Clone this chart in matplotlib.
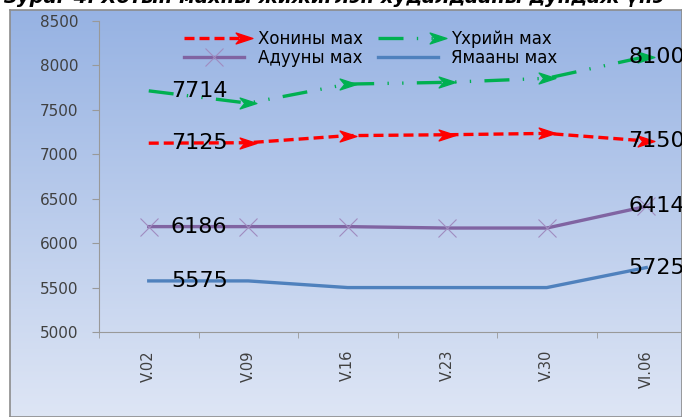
import numpy as np
import matplotlib
matplotlib.use('Agg')
import matplotlib.pyplot as plt
from matplotlib.path import Path
from matplotlib.legend_handler import HandlerLine2D

plt.rcParams['font.family'] = ['DejaVu Sans']

# data
dates = ['V.02', 'V.09', 'V.16', 'V.23', 'V.30', 'VI.06']
khonin = [7125, 7130, 7210, 7220, 7235, 7150]
ukhriin = [7714, 7575, 7790, 7810, 7855, 8100]
aduun = [6186, 6186, 6186, 6170, 6170, 6414]
yamaan = [5575, 5575, 5500, 5500, 5500, 5725]
names = ['Хонины мах', 'Үхрийн мах', 'Адууны мах', 'Ямааны мах']
yticks = [5000, 5500, 6000, 6500, 7000, 7500, 8000, 8500]


class ArrowAtEnd(HandlerLine2D):
    # legend line with the arrowhead at the right end
    def create_artists(self, *args, **kwargs):
        arts = super().create_artists(*args, **kwargs)
        arts[0].set_markevery([2])
        return arts


W, H = 682, 417
fig = plt.figure(figsize=(W/100, H/100), dpi=100)
fig.patch.set_facecolor('white')

# gradient background frame
bg = fig.add_axes([10/W, 0, 1 - 10/W, 1 - 10/H])
grad = np.linspace(0, 1, 256).reshape(-1, 1)
top = np.array([0.59, 0.70, 0.89])
bot = np.array([0.87, 0.90, 0.96])
img = top + (bot - top) * grad[:, :, None] * np.ones((1, 2, 1))
bg.imshow(img, aspect='auto', extent=[0, 1, 0, 1], origin='upper')
bg.set_xticks([])
bg.set_yticks([])
for s in bg.spines.values():
    s.set_color('#8c8c8c')
    s.set_linewidth(1.2)
bg.set_zorder(0)

# title, cut off by the top edge like in the original
fig.text(0.005, 1.005, 'Зураг 4. Хотын махны жижиглэн худалдааны дундаж үнэ',
         fontsize=14, fontweight='bold', style='italic', va='center', ha='left')

ax = fig.add_axes([99/W, (H - 332)/H, (696 - 99)/W, (332 - 21)/H])
ax.patch.set_alpha(0)
ax.set_zorder(1)

# arrowhead marker
arrow = Path([(-1, 0.65), (1, 0), (-1, -0.65), (-0.45, 0), (-1, 0.65)],
             [Path.MOVETO, Path.LINETO, Path.LINETO, Path.LINETO, Path.CLOSEPOLY])

x = np.arange(len(dates))
l1, = ax.plot(x, khonin, color='#ff0000', lw=2.4, ls=(0, (3, 1.5)),
              marker=arrow, markersize=12, markevery=list(range(1, 6)))
l2, = ax.plot(x, ukhriin, color='#00b050', lw=2.4, ls=(0, (7.5, 4, 0.4, 4, 0.4, 4)),
              marker=arrow, markersize=12, markevery=list(range(1, 6)))
l3, = ax.plot(x, aduun, color='#8064a2', lw=2.4, marker='x', markersize=13,
              markeredgewidth=0.8, markeredgecolor='#a08cc0')
l4, = ax.plot(x, yamaan, color='#4f81bd', lw=2.4)

# data labels on first and last points
for vals in [khonin, ukhriin, aduun, yamaan]:
    ax.annotate(str(vals[0]), (x[0], vals[0]), xytext=(16, 0), textcoords='offset points',
                fontsize=16, va='center', ha='left')
    ax.annotate(str(vals[-1]), (x[-1], vals[-1]), xytext=(-13, 0), textcoords='offset points',
                fontsize=16, va='center', ha='left')

ax.set_xlim(-0.5, 5.5)
ax.set_ylim(5000, 8500)
ax.set_yticks(yticks)
ax.set_yticklabels([str(v) for v in yticks], fontsize=11, color='#404040')
ax.set_xticks(x)
ax.set_xticklabels(dates, rotation=90, fontsize=10.5, color='#404040')
ax.set_xticks(np.arange(-0.5, 6, 1), minor=True)
ax.tick_params(axis='x', which='major', length=0, pad=13)
ax.tick_params(axis='x', which='minor', length=4, color='#999999')
ax.tick_params(axis='y', length=5, color='#999999', pad=10)
for s in ['top', 'right']:
    ax.spines[s].set_visible(False)
for s in ['left', 'bottom']:
    ax.spines[s].set_color('#999999')

leg = fig.legend([l1, l3, l2, l4], [names[0], names[2], names[1], names[3]],
                 loc='upper left', bbox_to_anchor=(176/W, 1 - 22/H), ncol=2, frameon=False,
                 fontsize=12, handlelength=3.6, columnspacing=0.9, labelspacing=0.05,
                 handletextpad=0.8, borderpad=0, numpoints=1,
                 handler_map={l1: ArrowAtEnd(), l2: ArrowAtEnd()})
leg.set_zorder(3)

fig.savefig('out.png', dpi=100)
